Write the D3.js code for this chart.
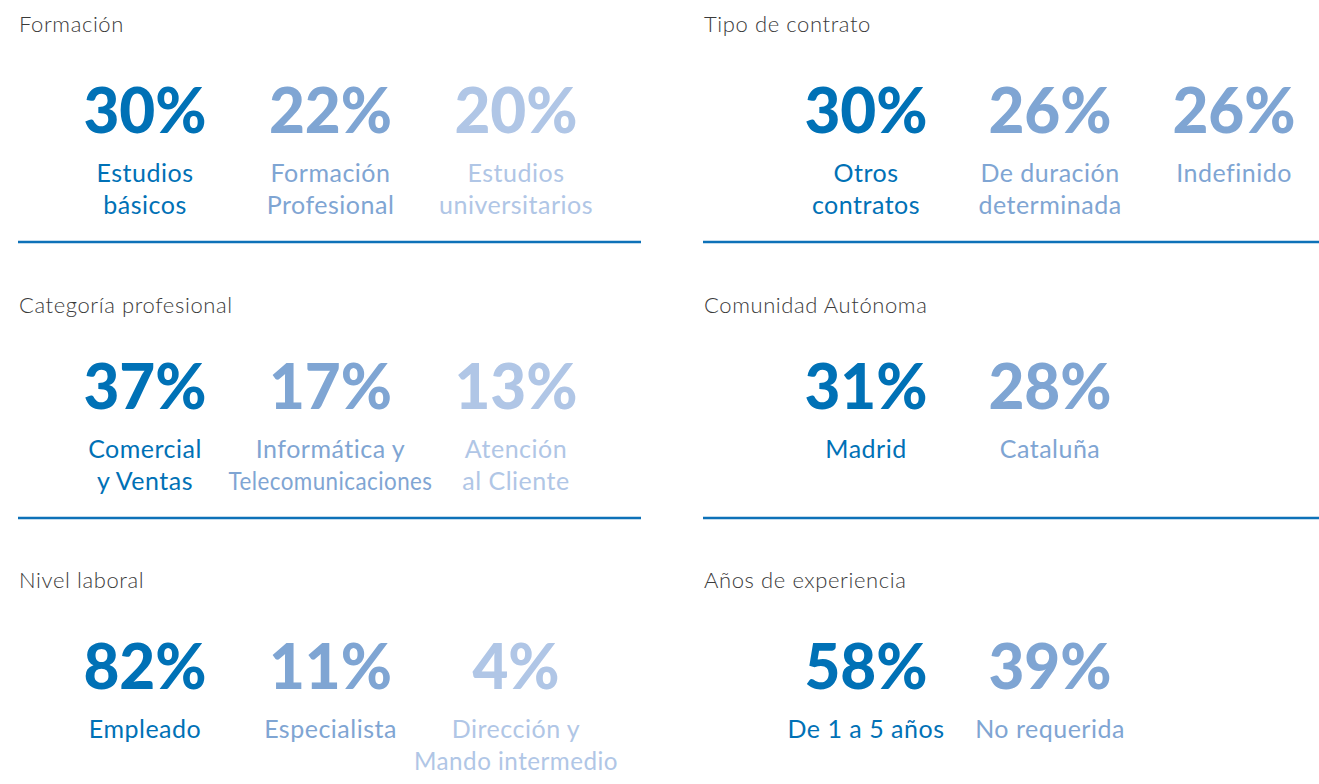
<!DOCTYPE html>
<html>
<head>
<meta charset="utf-8">
<script src="https://cdn.jsdelivr.net/npm/d3@7"></script>
<style>
  body { margin: 0; background: #fff; }
  svg { display: block; font-family: Lato, "Open Sans", sans-serif; }
</style>
</head>
<body>
<svg id="drawing_region"></svg>
<script>
// panel titles, in reading order (left column first, row by row)
const titles = ['Formación', 'Tipo de contrato', 'Categoría profesional',
                'Comunidad Autónoma', 'Nivel laboral', 'Años de experiencia'];

// values (percent) per panel
const values = [
    [30, 22, 20],
    [30, 26, 26],
    [37, 17, 13],
    [31, 28],
    [82, 11, 4],
    [58, 39]
];

// category labels per panel (each label split in lines)
const labels = [
    [['Estudios', 'básicos'], ['Formación', 'Profesional'], ['Estudios', 'universitarios']],
    [['Otros', 'contratos'], ['De duración', 'determinada'], ['Indefinido']],
    [['Comercial', 'y Ventas'], ['Informática y', 'Telecomunicaciones'], ['Atención', 'al Cliente']],
    [['Madrid'], ['Cataluña']],
    [['Empleado'], ['Especialista'], ['Dirección y', 'Mando intermedio']],
    [['De 1 a 5 años'], ['No requerida']]
];

const colors = ['#0071b6', '#7fa5d3', '#b0c6e6'];

const config = {
    width: 1319,
    height: 784,
    rowTop: [0, 276, 556],
    colLeft: [18, 703],
    colRight: [641, 1319],
    points: [[145, 516], [866, 1234]],
    maxLabel: 204
};

const svg = d3.select('#drawing_region')
    .attr('width', config.width)
    .attr('height', config.height);

titles.forEach((title, i) => {
    const col = i % 2;
    const row = Math.floor(i / 2);
    const top = config.rowTop[row];

    const xscale = d3.scalePoint()
        .domain([0, 1, 2])
        .range(config.points[col]);

    // equal values share a shade: rank by distinct value
    const ranks = Array.from(new Set(values[i])).sort((a, b) => b - a);
    const colorScale = d3.scaleOrdinal().domain(ranks).range(colors);

    const panel = svg.append('g')
        .attr('transform', `translate(0, ${top})`);

    panel.append('text')
        .attr('x', config.colLeft[col] + 1)
        .attr('y', row === 1 ? 37 : 32)
        .attr('fill', '#3a3a3a')
        .attr('font-size', 22)
        .attr('font-weight', 300)
        .attr('letter-spacing', 0.6)
        .text(title);

    const items = values[i].map((v, k) => ({ k: k, value: v, label: labels[i][k] }));

    const item = panel.selectAll('g.item')
        .data(items)
        .enter()
        .append('g')
        .attr('class', 'item')
        .attr('transform', d => `translate(${xscale(d.k)}, 0)`);

    item.append('text')
        .attr('y', 133)
        .attr('text-anchor', 'middle')
        .attr('font-size', 62)
        .attr('font-weight', 900)
        .attr('fill', d => colorScale(d.value))
        .text(d => d.value + '%');

    item.append('text')
        .attr('text-anchor', 'middle')
        .attr('font-size', 25)
        .attr('letter-spacing', 0.5)
        .attr('fill', d => colorScale(d.value))
        .selectAll('tspan')
        .data(d => d.label)
        .enter()
        .append('tspan')
        .attr('x', 0)
        .attr('y', (d, j) => 182 + j * 32)
        .text(d => d);

    // squeeze labels wider than the column
    item.selectAll('tspan').each(function() {
        if (this.getComputedTextLength() > config.maxLabel) {
            d3.select(this)
                .attr('textLength', config.maxLabel)
                .attr('lengthAdjust', 'spacingAndGlyphs');
        }
    });

    panel.append('line')
        .attr('x1', config.colLeft[col])
        .attr('x2', config.colRight[col])
        .attr('y1', 242)
        .attr('y2', 242)
        .attr('stroke', '#0d71b8')
        .attr('stroke-width', 2.5);
});
</script>
</body>
</html>
